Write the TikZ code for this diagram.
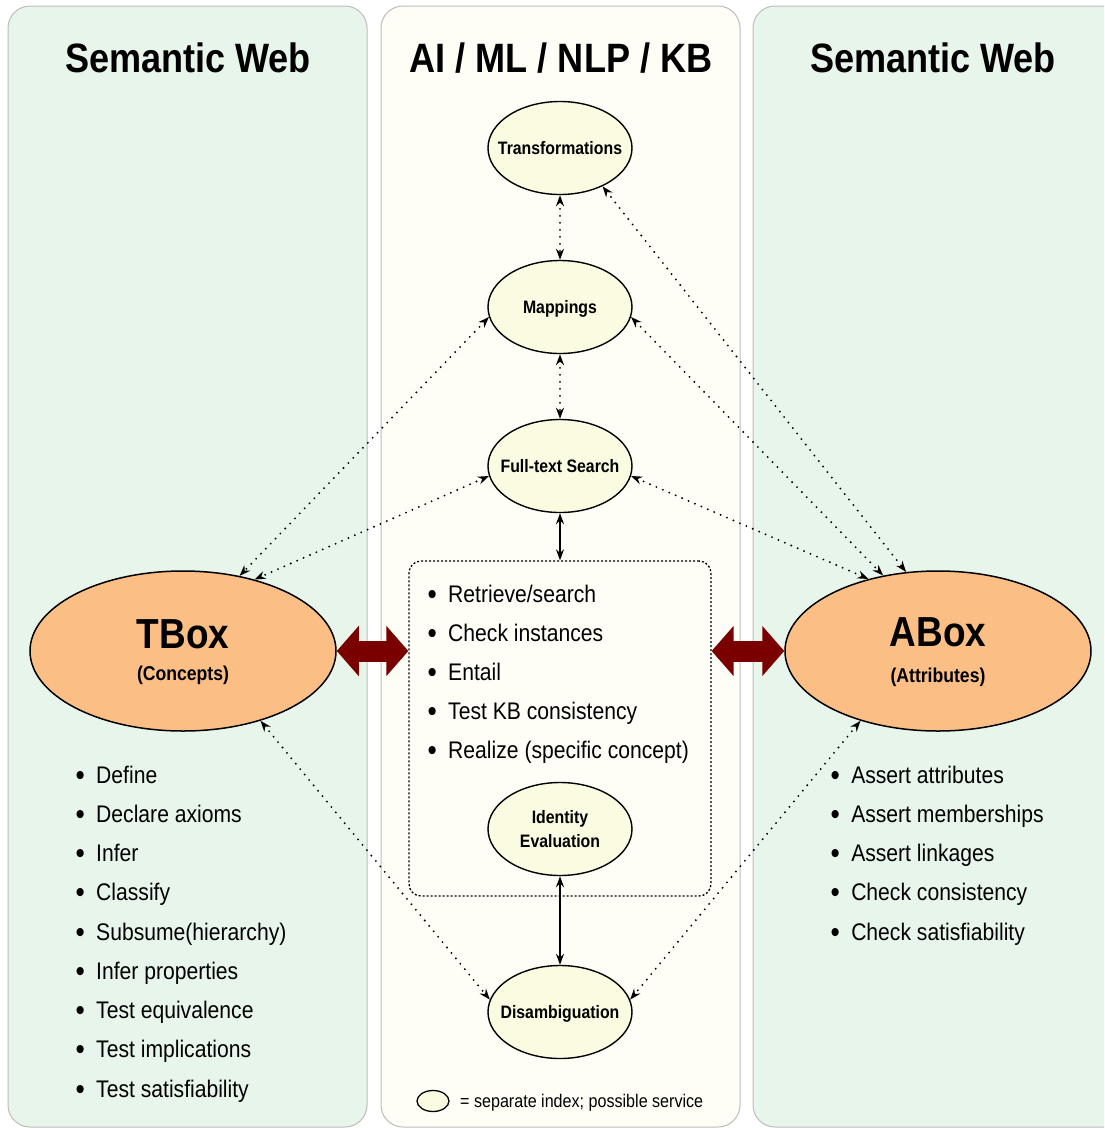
\documentclass[tikz,border=0pt]{standalone}
\usepackage{fontspec}
\setmainfont{Liberation Sans}[FakeStretch=0.88]
\usetikzlibrary{shapes.geometric,arrows.meta}
\definecolor{panelgreen}{HTML}{E8F5EA}
\definecolor{panelcream}{HTML}{FEFEF7}
\definecolor{panelborder}{HTML}{BDBDBD}
\definecolor{svcfill}{HTML}{FBFBE1}
\definecolor{boxfill}{HTML}{FBBF86}
\definecolor{darkred}{HTML}{7A0000}
\tikzset{
  panel/.style={draw=panelborder, line width=1pt, rounded corners=22pt},
  titletext/.style={font=\fontsize{41}{41}\selectfont\bfseries, anchor=base, inner sep=0pt},
  svc/.style={ellipse, draw, line width=1.4pt, fill=svcfill, minimum width=144pt, minimum height=93pt, inner sep=0pt},
  svclbl/.style={font=\fontsize{18}{24}\selectfont\bfseries, align=center, inner sep=0pt},
  bigbox/.style={ellipse, draw, line width=1.5pt, fill=boxfill, minimum width=306pt, minimum height=160pt, inner sep=0pt},
  bigname/.style={font=\fontsize{42}{42}\selectfont\bfseries, anchor=base, inner sep=0pt},
  bigsub/.style={font=\fontsize{20}{20}\selectfont\bfseries, anchor=base, inner sep=0pt},
  itemtext/.style={font=\fontsize{24}{24}\selectfont, anchor=base west, inner sep=0pt},
  dotconn/.style={line width=2.1pt, line cap=round, dash pattern=on 0pt off 7pt,
     {Stealth[length=11pt,width=8pt]}-{Stealth[length=11pt,width=8pt]}},
  solidconn/.style={line width=1.3pt, {Stealth[length=11pt,width=8pt]}-{Stealth[length=11pt,width=8pt]}},
  bigarrow/.style={draw=darkred, line width=21pt, {Triangle[length=22pt,width=49pt]}-{Triangle[length=22pt,width=49pt]}},
}
\newcommand{\bul}{{\fontsize{30}{24}\selectfont\raisebox{-2pt}{•}}\hspace{11.4pt}}
\begin{document}
\begin{tikzpicture}[x=1pt,y=-1pt]
\useasboundingbox (0,0) rectangle (1104,1128);
\clip (0,0) rectangle (1104,1128);
% panels
\fill[white] (0,0) rectangle (1104,1128);
\draw[panel, fill=panelgreen] (8,6) rectangle (367,1127);
\draw[panel, fill=panelcream] (381,6) rectangle (740,1127);
\draw[panel, fill=panelgreen] (753,6) rectangle (1125,1127);
% titles
\node[titletext] (tl) at (188,72) {Semantic Web};
\node[titletext] (tm) at (561,72) {AI / ML / NLP / KB};
\node[titletext] (tr) at (933,72) {Semantic Web};
% dotted box
\node[draw, line width=1.3pt, dash pattern=on 2pt off 2pt, rounded corners=12pt,
      minimum width=302pt, minimum height=335pt, inner sep=0pt] (dbox) at (560,728.5) {};
% service ellipses
\node[svc] (trans) at (560,148) {};
\node[svclbl] (transl) at (560,148) {Transformations};
\node[svc] (map) at (560,307) {};
\node[svclbl] (mapl) at (560,309) {Mappings};
\node[svc] (fts) at (560,466) {};
\node[svclbl] (ftsl) at (560,466) {Full-text Search};
\node[svc] (ident) at (560,829) {};
\node[svclbl] (identl) at (560,829) {Identity\\Evaluation};
\node[svc] (dis) at (560,1012) {};
\node[svclbl] (disl) at (560,1014) {Disambiguation};
% TBox / ABox
\node[bigbox] (tbox) at (183,651) {};
\node[bigname] (tboxn) at (183,648) {TBox};
\node[bigsub] (tboxs) at (183,680) {(Concepts)};
\node[bigbox] (abox) at (938,651) {};
\node[bigname] (aboxn) at (938,646) {ABox};
\node[bigsub] (aboxs) at (938,682) {(Attributes)};
% lists
\foreach \t [count=\i] in {{Define},{Declare axioms},{Infer},{Classify},{Subsume(hierarchy)},{Infer properties},{Test equivalence},{Test implications},{Test satisfiability}}
  \node[itemtext] (L\i) at (75.4,{783+39.25*(\i-1)}) {\bul\t};
\foreach \t [count=\i] in {{Retrieve/search},{Check instances},{Entail},{Test KB consistency},{Realize (specific concept)}}
  \node[itemtext] (M\i) at (427.4,{602+39*(\i-1)}) {\bul\t};
\foreach \t [count=\i] in {{Assert attributes},{Assert memberships},{Assert linkages},{Check consistency},{Check satisfiability}}
  \node[itemtext] (R\i) at (830.4,{783+39.25*(\i-1)}) {\bul\t};
% legend
\node[ellipse, draw, line width=1.3pt, fill=svcfill, minimum width=32pt, minimum height=21pt, inner sep=0pt] (leg) at (433,1101) {};
\node[font=\fontsize{18.3}{18}\selectfont, anchor=base west, inner sep=0pt] (legt) at (460,1107) {= separate index; possible service};
% connectors
\draw[dotconn] (trans.south) -- (map.north);
\draw[dotconn] (map.south) -- (fts.north);
\draw[solidconn] (fts.south) -- (dbox.north);
\draw[solidconn] (ident.south) -- (dis.north);
\draw[dotconn] (trans.-42) -- (abox.112);
\draw[dotconn] (map.-8) -- (abox.126);
\draw[dotconn] (fts.-8) -- (abox.134);
\draw[dotconn] (map.188) -- (tbox.53);
\draw[dotconn] (fts.188) -- (tbox.45);
\draw[dotconn] (tbox.-42) -- (dis.170);
\draw[dotconn] (abox.222) -- (dis.10);
% big arrows
\draw[bigarrow] (tbox.east) -- (tbox.east -| dbox.west);
\draw[bigarrow] (abox.west -| dbox.east) -- (abox.west);
\end{tikzpicture}
\end{document}
